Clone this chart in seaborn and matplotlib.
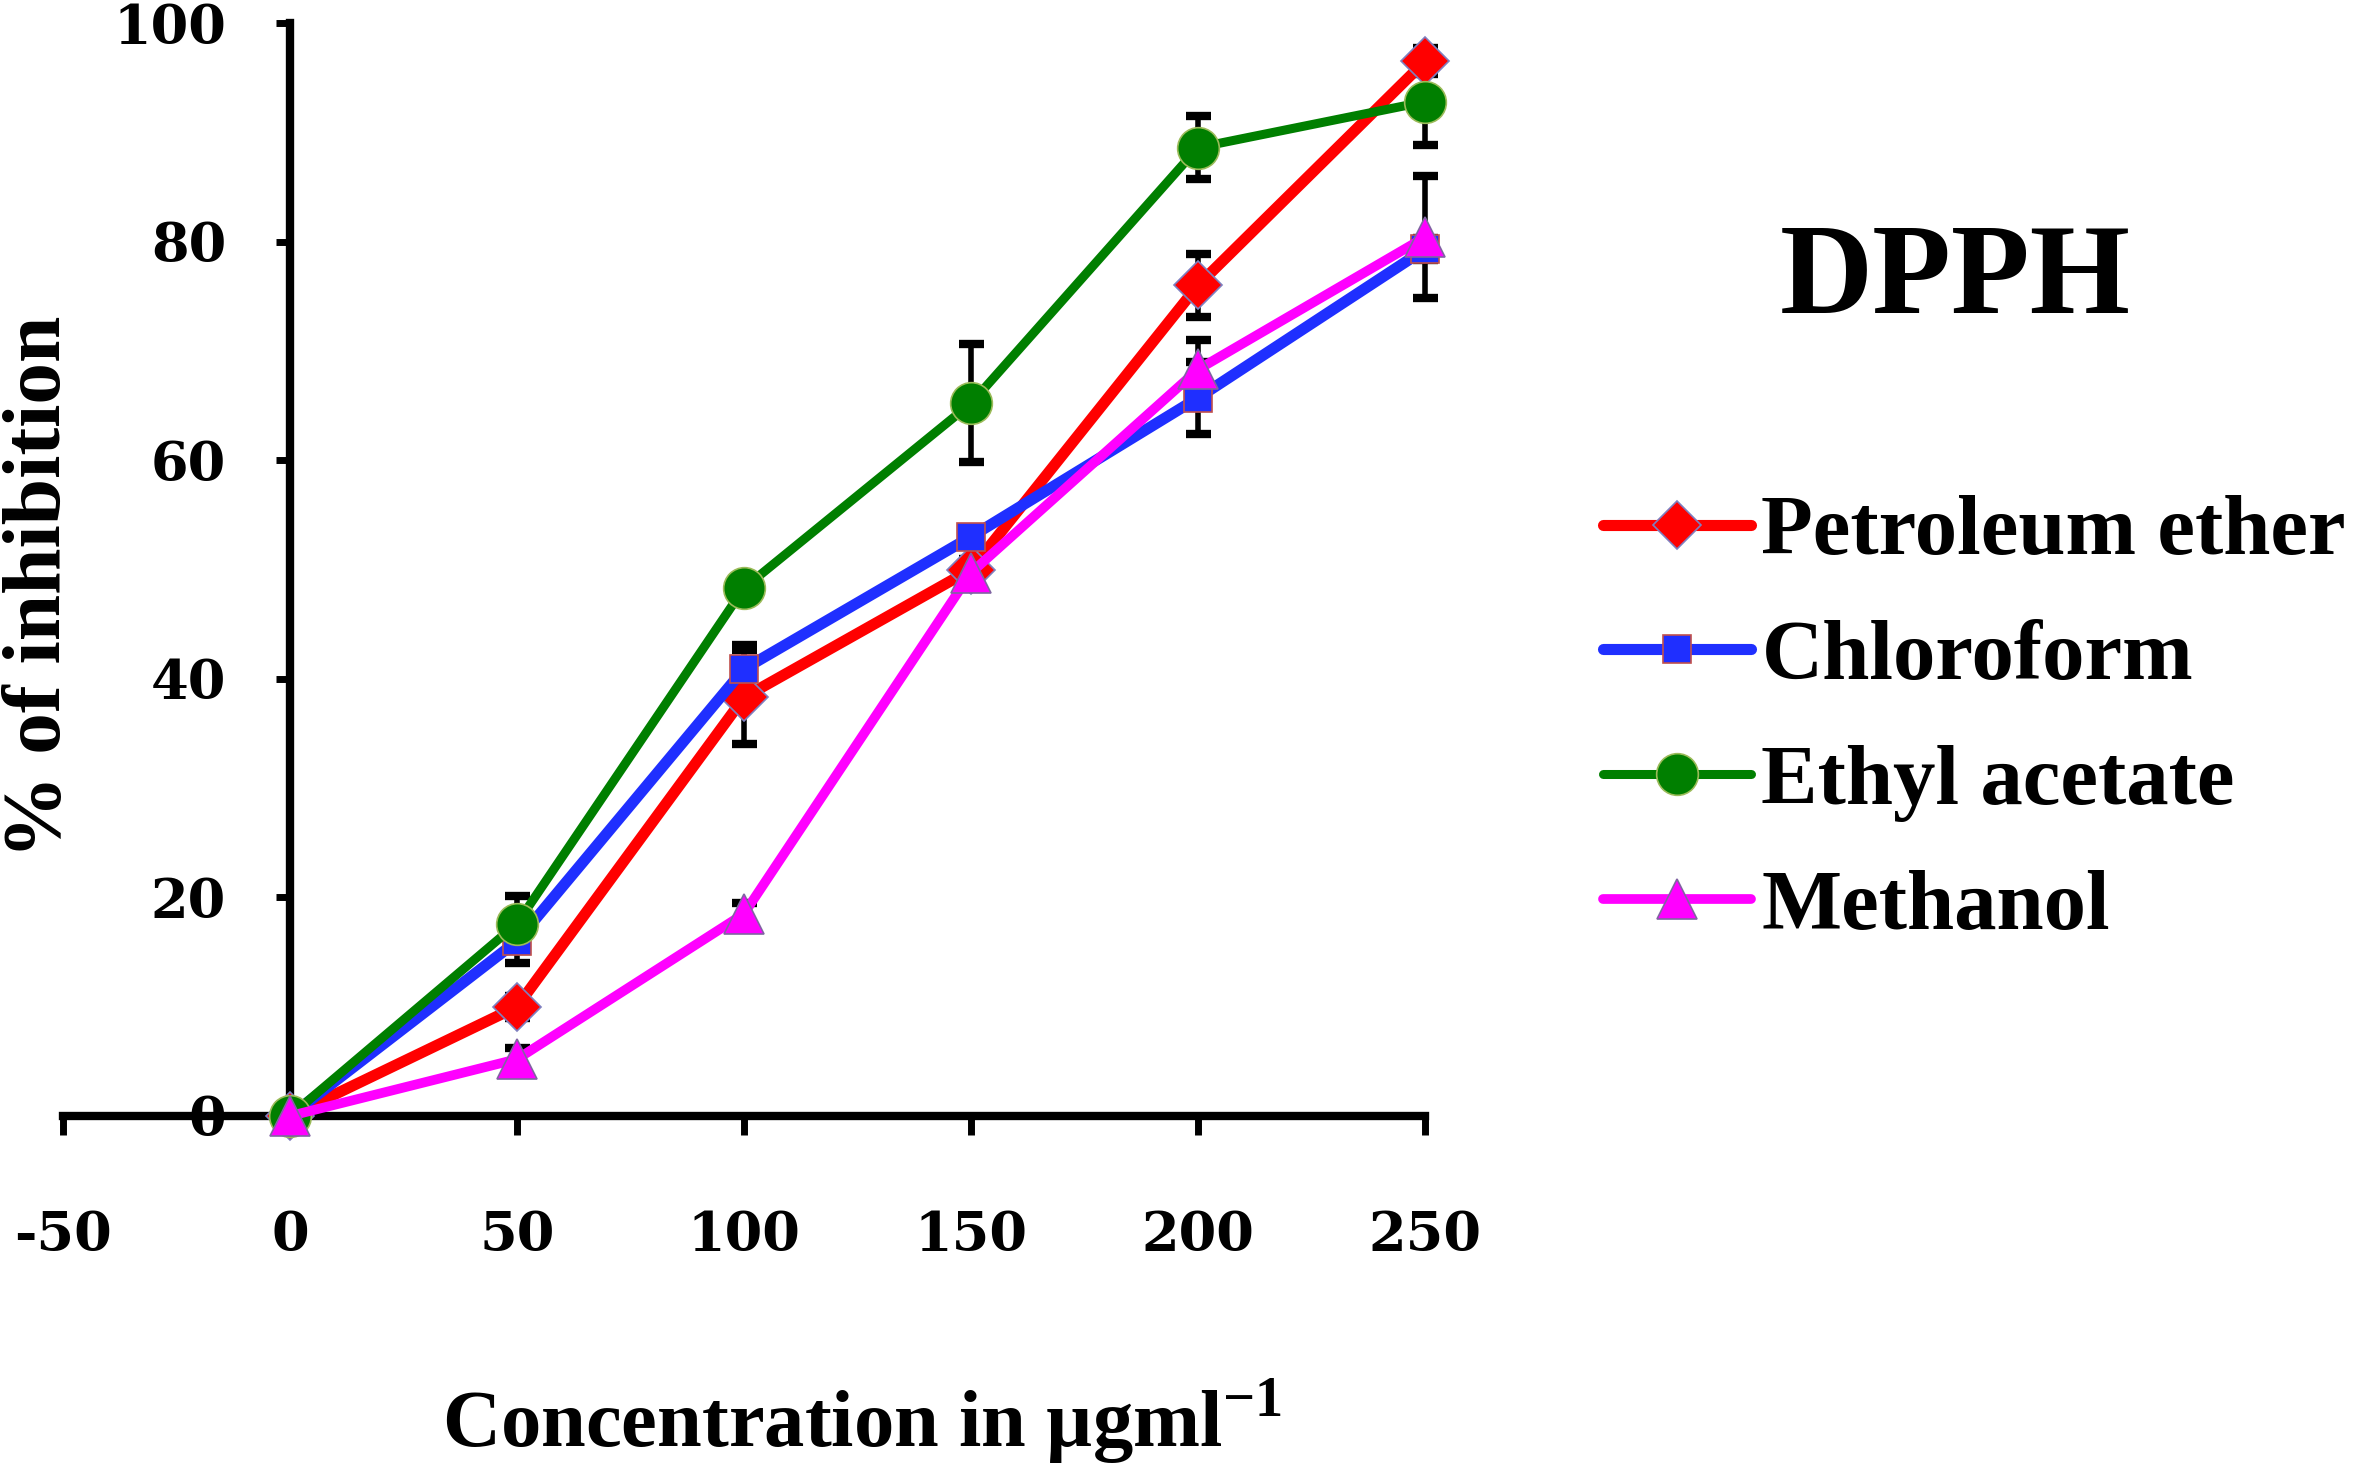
import matplotlib
matplotlib.use("Agg")
import matplotlib.pyplot as plt
import seaborn as sns
import numpy as np

conc = [0, 50, 100, 150, 200, 250]
series = ["Petroleum ether", "Chloroform", "Ethyl acetate", "Methanol"]
pet_ether = [0, 10.0, 38.3, 50.0, 76.0, 96.5]
chloroform = [0, 16.0, 40.9, 53.0, 65.7, 79.3]
ethyl_acetate = [0, 17.6, 48.3, 65.2, 88.6, 92.8]
methanol = [0, 5.2, 18.5, 49.7, 68.3, 80.4]
pet_err = [0, 1.0, 4.3, 1.0, 2.9, 1.2]
chl_err = [0, 2.0, 2.2, 0.8, 3.3, 1.0]
eth_err = [0, 2.5, 1.0, 5.4, 2.9, 4.0]
met_err = [0, 1.0, 1.0, 1.0, 2.7, 5.6]
x_ticks = [-50, 0, 50, 100, 150, 200, 250]
y_ticks = [0, 20, 40, 60, 80, 100]

sns.set_theme(style="white")
plt.rcParams["font.family"] = ["Liberation Serif", "DejaVu Serif"]
plt.rcParams["font.weight"] = "bold"
plt.rcParams["text.color"] = "black"
plt.rcParams["axes.labelcolor"] = "black"
plt.rcParams["xtick.color"] = "black"
plt.rcParams["ytick.color"] = "black"
plt.rcParams["mathtext.fontset"] = "custom"
plt.rcParams["mathtext.rm"] = "Liberation Serif:bold"
plt.rcParams["mathtext.bf"] = "Liberation Serif:bold"

fig = plt.figure(figsize=(23.62, 14.70), dpi=100)
ax = fig.add_axes([63/2362, 1 - 1116/1470, (1425-63)/2362, (1116-23)/1470])

styles = [
    (pet_ether, pet_err, "#ff0000", "D", 24, "#7f7fbf", 8.0),
    (chloroform, chl_err, "#1f2fff", "s", 20, "#c0504d", 8.0),
    (ethyl_acetate, eth_err, "#007f00", "o", 30, "#9bbb59", 6.5),
    (methanol, met_err, "#ff00ff", "^", 29, "#8064a2", 7.0),
]

for (vals, err, col, mk, ms, ec, lw), name in zip(styles, series):
    ax.errorbar(conc, vals, yerr=err, fmt="none", ecolor="black",
                elinewidth=4, capsize=9, capthick=6, zorder=2, clip_on=False)

for (vals, err, col, mk, ms, ec, lw), name in zip(styles, series):
    sns.lineplot(x=conc, y=vals, ax=ax, color=col, marker=mk, markersize=ms,
                 markeredgecolor=ec, markeredgewidth=1.2, linewidth=lw,
                 label=name, zorder=3, clip_on=False)

ax.set_xlim(-50, 250)
ax.set_ylim(0, 100)
ax.set_xticks(x_ticks)
ax.set_yticks(y_ticks)
ax.spines["left"].set_position(("data", 0))
ax.spines["bottom"].set_position(("data", 0))
ax.spines["top"].set_visible(False)
ax.spines["right"].set_visible(False)
for s in ["left", "bottom"]:
    ax.spines[s].set_linewidth(6)
    ax.spines[s].set_color("black")
    ax.spines[s].set_capstyle("projecting")
ax.tick_params(axis="x", bottom=True, direction="out", length=14, width=5, pad=54, color="black")
ax.tick_params(axis="y", left=True, direction="out", length=10, width=5, pad=36, color="black")
ax.set_xticklabels([str(t) for t in x_ticks], family="DejaVu Serif", weight="bold", fontsize=39, color="black")
ax.set_yticklabels([str(t) for t in y_ticks], family="DejaVu Serif", weight="bold", fontsize=39, color="black")
ax.grid(False)
ax.set_facecolor("white")

ax.set_xlabel(r"Concentration in µgml$^{-1}$", fontsize=58, fontweight="bold", va="center", color="black")
ax.xaxis.set_label_coords((862-63)/1362, (1116-1422)/(1116-23))
ax.set_ylabel("% of inhibition", fontsize=60, fontweight="bold", va="center", ha="center", color="black")
ax.yaxis.set_label_coords((41-63)/1362, (1116-587)/1093)

fig.text(1955/2362, 1 - 282/1470, "DPPH", fontsize=93, fontweight="bold",
         ha="center", va="center", color="black")

leg = ax.legend(loc="upper left", bbox_to_anchor=(1603/2362, 1 - 495/1470),
                bbox_transform=fig.transFigure, frameon=False, fontsize=61,
                handlelength=1.75, handletextpad=0.12, labelspacing=0.56,
                borderaxespad=0, borderpad=0)
for t in leg.get_texts():
    t.set_fontweight("bold")
    t.set_color("black")

fig.savefig("out.png", dpi=100, facecolor="white")
